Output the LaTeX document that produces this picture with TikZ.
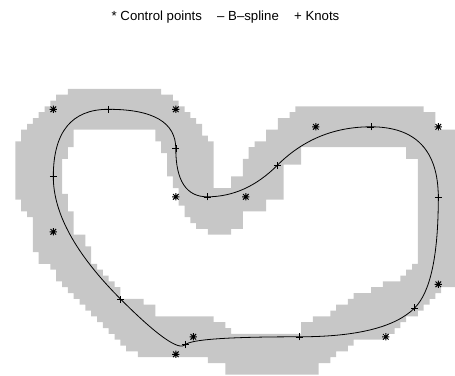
\documentclass[tikz,border=0pt]{standalone}
\usepackage{fontspec}
\newfontfamily\legendfont{Liberation Sans}
\usetikzlibrary{calc}
\definecolor{bandgray}{RGB}{199,199,199}
\tikzset{
  curveline/.style={line width=0.8pt, black},
  ctrlstar/.pic={\draw[line width=0.95pt, black]
      (-3.6pt,0) -- (3.6pt,0) (0,-3.6pt) -- (0,3.6pt)
      (-2.8pt,-2.8pt) -- (2.8pt,2.8pt) (-2.8pt,2.8pt) -- (2.8pt,-2.8pt);},
  knotplus/.pic={\draw[line width=0.6pt, black]
      (-3.5pt,0) -- (3.5pt,0) (0,-3.5pt) -- (0,3.5pt);}
}
\begin{document}
\begin{tikzpicture}[x=1pt, y=-1pt]
\useasboundingbox (0,0) rectangle (455,375);

% legend line
\node[font=\legendfont\fontsize{13.2}{16}\selectfont, anchor=base west, inner sep=0pt]
  (legend) at (111.5,20.5) {* Control points\hspace{15.3pt}– B–spline\hspace{15.3pt}+ Knots};

% binary mask of the region, one rectangle per run of cells (row/from/to)
\begin{scope}
\clip (0,0) rectangle (455,375);
\begin{scope}[shift={(50.38,106.38)}, x=5.8333pt, y=-5.8333pt]
\fill[bandgray] \foreach \r/\a/\b in {
  -3/3/19, -2/1/21, -1/0/22,
  0/-1/23, 0/42/64,
  1/-2/24, 1/41/66,
  2/-3/25, 2/39/66,
  3/-4/26, 3/39/66,
  4/-5/4, 4/18/26, 4/37/70,
  5/-5/4, 5/18/27, 5/37/70,
  6/-6/4, 6/19/28, 6/35/70,
  7/-6/3, 7/19/28, 7/34/43, 7/61/70,
  8/-6/3, 8/20/28, 8/34/43, 8/61/70,
  9/-6/2, 9/20/28, 9/33/43, 9/63/70,
  10/-6/2, 10/20/28, 10/33/40, 10/63/70,
  11/-6/2, 11/20/28, 11/33/40, 11/63/70,
  12/-6/2, 12/21/28, 12/31/40, 12/63/70,
  13/-6/2, 13/21/28, 13/31/40, 13/63/70,
  14/-6/2, 14/22/40, 14/63/70,
  15/-6/3, 15/22/40, 15/63/70,
  16/-5/3, 16/22/37, 16/63/70,
  17/-5/3, 17/23/37, 17/63/70,
  18/-4/4, 18/23/33, 18/63/70,
  19/-3/4, 19/24/33, 19/63/70,
  20/-3/4, 20/25/33, 20/63/70,
  21/-3/4, 21/27/31, 21/63/70,
  22/-3/6, 22/63/70,
  23/-3/6, 23/63/70,
  24/-3/7, 24/63/70,
  25/-2/7, 25/63/70,
  26/-2/7, 26/63/70,
  27/0/8, 27/62/70,
  28/1/9, 28/61/70,
  29/1/10, 29/60/70,
  30/2/11, 30/57/70,
  31/3/12, 31/55/67,
  32/4/12, 32/52/66,
  33/5/16, 33/51/65,
  34/6/18, 34/49/64,
  35/7/18, 35/48/63,
  36/8/28, 36/45/61,
  37/9/30, 37/43/60,
  38/10/31, 38/43/59,
  39/11/57,
  40/12/52,
  41/13/51,
  42/15/49,
  43/27/48,
  44/30/46,
  45/30/46}
  {(\a,\r) rectangle (\b,\r+1)};
\end{scope}
\end{scope}

% closed quadratic B-spline: control points and knots
\begin{scope}[shift={(53.3,109.3)}, x=17.5pt, y=-17.5pt]
\coordinate (P1) at (0,0);
\coordinate (P2) at (7,0);
\coordinate (P3) at (7,5);
\coordinate (P4) at (11,5);
\coordinate (P5) at (15,1);
\coordinate (P6) at (22,1);
\coordinate (P7) at (22,10);
\coordinate (P8) at (19,13);
\coordinate (P9) at (8,13);
\coordinate (P10) at (7,14);
\coordinate (P11) at (0,7);
\coordinate (K1) at ($(P1)!0.45!(P2)$);
\coordinate (K2) at ($(P2)!0.45!(P3)$);
\coordinate (K3) at ($(P3)!0.45!(P4)$);
\coordinate (K4) at ($(P4)!0.45!(P5)$);
\coordinate (K5) at ($(P5)!0.45!(P6)$);
\coordinate (K6) at ($(P6)!0.45!(P7)$);
\coordinate (K7) at ($(P7)!0.45!(P8)$);
\coordinate (K8) at ($(P8)!0.45!(P9)$);
\coordinate (K9) at ($(P9)!0.45!(P10)$);
\coordinate (K10) at ($(P10)!0.45!(P11)$);
\coordinate (K11) at ($(P11)!0.45!(P1)$);

\draw[curveline, line join=round]
  (K11) .. controls ($(K11)!2/3!(P1)$) and ($(K1)!2/3!(P1)$) .. (K1)
        .. controls ($(K1)!2/3!(P2)$) and ($(K2)!2/3!(P2)$) .. (K2)
        .. controls ($(K2)!2/3!(P3)$) and ($(K3)!2/3!(P3)$) .. (K3)
        .. controls ($(K3)!2/3!(P4)$) and ($(K4)!2/3!(P4)$) .. (K4)
        .. controls ($(K4)!2/3!(P5)$) and ($(K5)!2/3!(P5)$) .. (K5)
        .. controls ($(K5)!2/3!(P6)$) and ($(K6)!2/3!(P6)$) .. (K6)
        .. controls ($(K6)!2/3!(P7)$) and ($(K7)!2/3!(P7)$) .. (K7)
        .. controls ($(K7)!2/3!(P8)$) and ($(K8)!2/3!(P8)$) .. (K8)
        .. controls ($(K8)!2/3!(P9)$) and ($(K9)!2/3!(P9)$) .. (K9)
        .. controls ($(K9)!2/3!(P10)$) and ($(K10)!2/3!(P10)$) .. (K10)
        .. controls ($(K10)!2/3!(P11)$) and ($(K11)!2/3!(P11)$) .. (K11);

\foreach \i in {1,...,11} {
  \pic at (P\i) {ctrlstar};
  \pic at (K\i) {knotplus};
}
\end{scope}
\end{tikzpicture}
\end{document}
